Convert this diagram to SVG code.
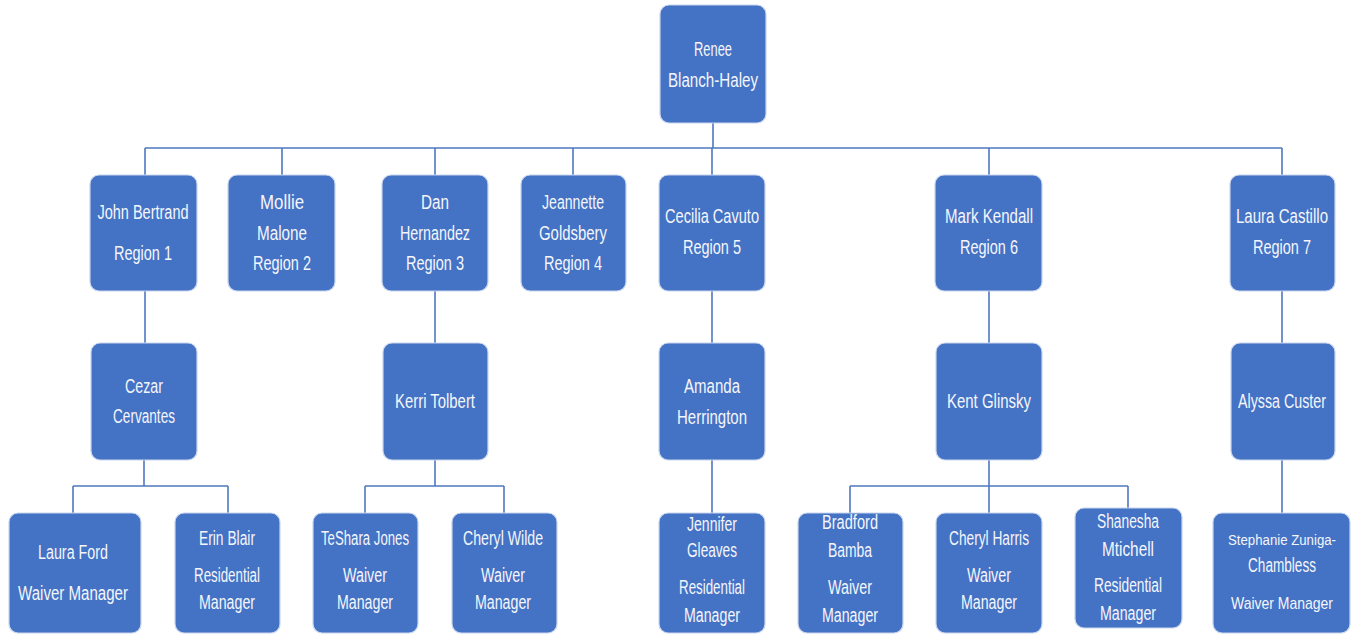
<svg xmlns="http://www.w3.org/2000/svg" width="1356" height="635" viewBox="0 0 1356 635">
<style>
.b{fill:#4472C4;stroke:#C9D6EE;stroke-width:1.2}
.t{font-family:"Liberation Sans",Arial,sans-serif;font-size:19.5px;fill:#F4F6FB;text-anchor:middle}
.s{font-size:17px}
.s2{font-size:15.5px}
.c{stroke:#4F78C0;stroke-width:1.6;fill:none}
</style>
<rect width="1356" height="635" fill="#FFFFFF"/>
<g id="connectors">
<path class="c" d="M713 123V148M145 148H1282M145 148V175M282 148V175M435 148V175M573 148V175M712 148V175M989 148V175M1282 148V175"/>
<path class="c" d="M145 291V343M435 291V343M712 291V343M989 291V343M1282 291V343"/>
<path class="c" d="M144 460V486M73 486H228M73 486V513M228 486V513"/>
<path class="c" d="M435 460V486M365 486H504M365 486V513M504 486V513"/>
<path class="c" d="M712 460V513M1282 460V513"/>
<path class="c" d="M989 460V513M850 486H1128M850 486V513M1128 486V508"/>
</g>
<g id="n-renee"><rect class="b" x="660" y="5" width="106" height="118" rx="9"/>
<text class="t" x="713" y="56" textLength="38" lengthAdjust="spacingAndGlyphs">Renee</text>
<text class="t" x="713" y="87" textLength="90" lengthAdjust="spacingAndGlyphs">Blanch-Haley</text></g>
<g id="n-john"><rect class="b" x="90" y="175" width="107" height="116" rx="9"/>
<text class="t" x="143" y="219" textLength="91" lengthAdjust="spacingAndGlyphs">John Bertrand</text>
<text class="t" x="143" y="260" textLength="58" lengthAdjust="spacingAndGlyphs">Region 1</text></g>
<g id="n-mollie"><rect class="b" x="228" y="175" width="107" height="116" rx="9"/>
<text class="t" x="282" y="209" textLength="44" lengthAdjust="spacingAndGlyphs">Mollie</text>
<text class="t" x="282" y="240" textLength="50" lengthAdjust="spacingAndGlyphs">Malone</text>
<text class="t" x="282" y="270" textLength="58" lengthAdjust="spacingAndGlyphs">Region 2</text></g>
<g id="n-dan"><rect class="b" x="382" y="175" width="106" height="116" rx="9"/>
<text class="t" x="435" y="209" textLength="28" lengthAdjust="spacingAndGlyphs">Dan</text>
<text class="t" x="435" y="240" textLength="70" lengthAdjust="spacingAndGlyphs">Hernandez</text>
<text class="t" x="435" y="270" textLength="58" lengthAdjust="spacingAndGlyphs">Region 3</text></g>
<g id="n-jeannette"><rect class="b" x="521" y="175" width="105" height="116" rx="9"/>
<text class="t" x="573" y="209" textLength="62" lengthAdjust="spacingAndGlyphs">Jeannette</text>
<text class="t" x="573" y="240" textLength="68" lengthAdjust="spacingAndGlyphs">Goldsbery</text>
<text class="t" x="573" y="270" textLength="58" lengthAdjust="spacingAndGlyphs">Region 4</text></g>
<g id="n-cecilia"><rect class="b" x="659" y="175" width="106" height="116" rx="9"/>
<text class="t" x="712" y="223" textLength="94" lengthAdjust="spacingAndGlyphs">Cecilia Cavuto</text>
<text class="t" x="712" y="254" textLength="58" lengthAdjust="spacingAndGlyphs">Region 5</text></g>
<g id="n-mark"><rect class="b" x="935" y="175" width="107" height="116" rx="9"/>
<text class="t" x="989" y="223" textLength="88" lengthAdjust="spacingAndGlyphs">Mark Kendall</text>
<text class="t" x="989" y="254" textLength="58" lengthAdjust="spacingAndGlyphs">Region 6</text></g>
<g id="n-laurac"><rect class="b" x="1230" y="175" width="105" height="116" rx="9"/>
<text class="t" x="1282" y="223" textLength="92" lengthAdjust="spacingAndGlyphs">Laura Castillo</text>
<text class="t" x="1282" y="254" textLength="58" lengthAdjust="spacingAndGlyphs">Region 7</text></g>
<g id="n-cezar"><rect class="b" x="91" y="343" width="106" height="117" rx="9"/>
<text class="t" x="144" y="393" textLength="38" lengthAdjust="spacingAndGlyphs">Cezar</text>
<text class="t" x="144" y="423" textLength="62" lengthAdjust="spacingAndGlyphs">Cervantes</text></g>
<g id="n-kerri"><rect class="b" x="383" y="343" width="105" height="117" rx="9"/>
<text class="t" x="435" y="408" textLength="80" lengthAdjust="spacingAndGlyphs">Kerri Tolbert</text></g>
<g id="n-amanda"><rect class="b" x="659" y="343" width="106" height="117" rx="9"/>
<text class="t" x="712" y="393" textLength="56" lengthAdjust="spacingAndGlyphs">Amanda</text>
<text class="t" x="712" y="424" textLength="70" lengthAdjust="spacingAndGlyphs">Herrington</text></g>
<g id="n-kent"><rect class="b" x="936" y="343" width="106" height="117" rx="9"/>
<text class="t" x="989" y="408" textLength="84" lengthAdjust="spacingAndGlyphs">Kent Glinsky</text></g>
<g id="n-alyssa"><rect class="b" x="1231" y="343" width="104" height="117" rx="9"/>
<text class="t" x="1282" y="408" textLength="88" lengthAdjust="spacingAndGlyphs">Alyssa Custer</text></g>
<g id="n-lauraford"><rect class="b" x="9" y="513" width="132" height="120" rx="9"/>
<text class="t" x="73" y="559" textLength="70" lengthAdjust="spacingAndGlyphs">Laura Ford</text>
<text class="t" x="73" y="600" textLength="110" lengthAdjust="spacingAndGlyphs">Waiver Manager</text></g>
<g id="n-erin"><rect class="b" x="175" y="513" width="105" height="120" rx="9"/>
<text class="t" x="227" y="545" textLength="56" lengthAdjust="spacingAndGlyphs">Erin Blair</text>
<text class="t" x="227" y="582" textLength="66" lengthAdjust="spacingAndGlyphs">Residential</text>
<text class="t" x="227" y="609" textLength="56" lengthAdjust="spacingAndGlyphs">Manager</text></g>
<g id="n-teshara"><rect class="b" x="313" y="513" width="105" height="120" rx="9"/>
<text class="t" x="365" y="545" textLength="88" lengthAdjust="spacingAndGlyphs">TeShara Jones</text>
<text class="t" x="365" y="582" textLength="44" lengthAdjust="spacingAndGlyphs">Waiver</text>
<text class="t" x="365" y="609" textLength="56" lengthAdjust="spacingAndGlyphs">Manager</text></g>
<g id="n-cherylw"><rect class="b" x="452" y="513" width="105" height="120" rx="9"/>
<text class="t" x="503" y="545" textLength="80" lengthAdjust="spacingAndGlyphs">Cheryl Wilde</text>
<text class="t" x="503" y="582" textLength="44" lengthAdjust="spacingAndGlyphs">Waiver</text>
<text class="t" x="503" y="609" textLength="56" lengthAdjust="spacingAndGlyphs">Manager</text></g>
<g id="n-jennifer"><rect class="b" x="659" y="513" width="106" height="120" rx="9"/>
<text class="t" x="712" y="531" textLength="50" lengthAdjust="spacingAndGlyphs">Jennifer</text>
<text class="t" x="712" y="557" textLength="50" lengthAdjust="spacingAndGlyphs">Gleaves</text>
<text class="t" x="712" y="594" textLength="66" lengthAdjust="spacingAndGlyphs">Residential</text>
<text class="t" x="712" y="622" textLength="56" lengthAdjust="spacingAndGlyphs">Manager</text></g>
<g id="n-bradford"><rect class="b" x="798" y="513" width="105" height="120" rx="9"/>
<text class="t" x="850" y="529" textLength="56" lengthAdjust="spacingAndGlyphs">Bradford</text>
<text class="t" x="850" y="557" textLength="44" lengthAdjust="spacingAndGlyphs">Bamba</text>
<text class="t" x="850" y="594" textLength="44" lengthAdjust="spacingAndGlyphs">Waiver</text>
<text class="t" x="850" y="622" textLength="56" lengthAdjust="spacingAndGlyphs">Manager</text></g>
<g id="n-cherylh"><rect class="b" x="936" y="513" width="106" height="120" rx="9"/>
<text class="t" x="989" y="545" textLength="80" lengthAdjust="spacingAndGlyphs">Cheryl Harris</text>
<text class="t" x="989" y="582" textLength="44" lengthAdjust="spacingAndGlyphs">Waiver</text>
<text class="t" x="989" y="609" textLength="56" lengthAdjust="spacingAndGlyphs">Manager</text></g>
<g id="n-shanesha"><rect class="b" x="1075" y="508" width="107" height="120" rx="9"/>
<text class="t" x="1128" y="528" textLength="62" lengthAdjust="spacingAndGlyphs">Shanesha</text>
<text class="t" x="1128" y="556" textLength="52" lengthAdjust="spacingAndGlyphs">Mtichell</text>
<text class="t" x="1128" y="592" textLength="68" lengthAdjust="spacingAndGlyphs">Residential</text>
<text class="t" x="1128" y="620" textLength="56" lengthAdjust="spacingAndGlyphs">Manager</text></g>
<g id="n-stephanie"><rect class="b" x="1213" y="513" width="137" height="120" rx="9"/>
<text class="t s2" x="1282" y="545" textLength="108" lengthAdjust="spacingAndGlyphs">Stephanie Zuniga-</text>
<text class="t" x="1282" y="572" textLength="68" lengthAdjust="spacingAndGlyphs">Chambless</text>
<text class="t s" x="1282" y="609" textLength="102" lengthAdjust="spacingAndGlyphs">Waiver Manager</text></g>
</svg>
